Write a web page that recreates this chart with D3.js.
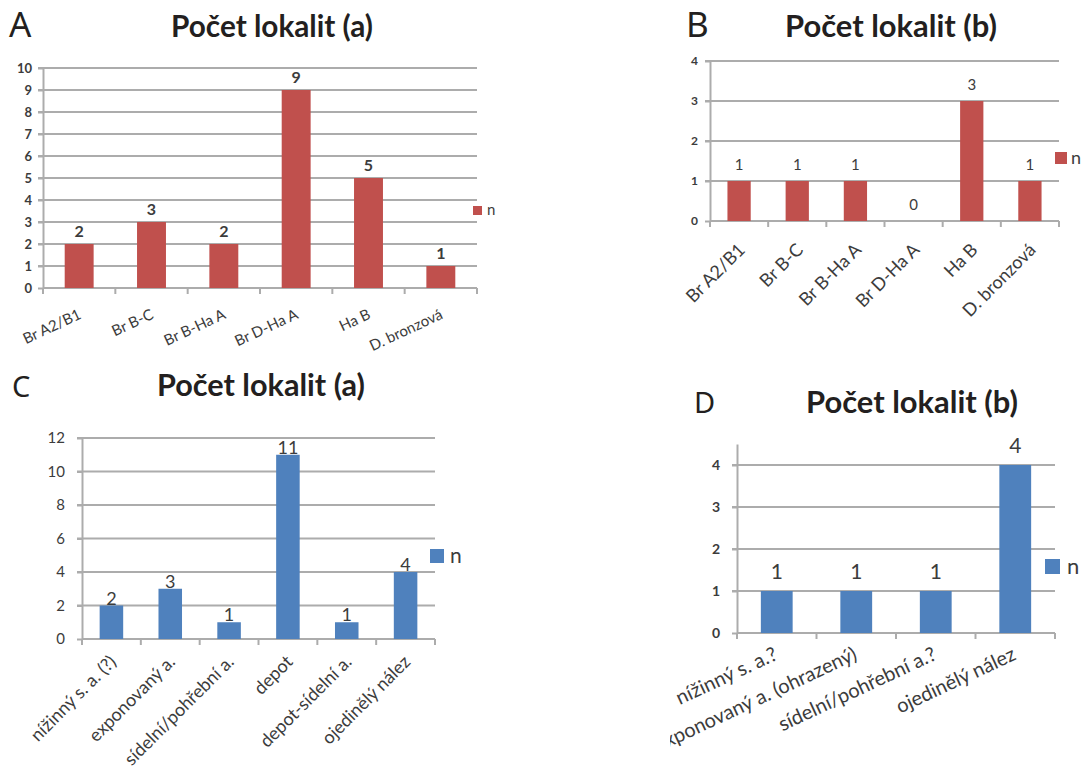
<!DOCTYPE html>
<html><head><meta charset="utf-8">
<script src="https://cdn.jsdelivr.net/npm/d3@7"></script>
<style>body{margin:0;background:#fff} text{font-family:Lato,'Open Sans',sans-serif}</style>
</head><body><svg id="c" width="1085" height="782"></svg>
<script>
// ---- data ----
const catsAB = ["Br A2/B1","Br B-C","Br B-Ha A","Br D-Ha A","Ha B","D. bronzová"];
const valuesA = [2,3,2,9,5,1];
const valuesB = [1,1,1,0,3,1];
const catsC = ["nížinný s. a. (?)","exponovaný a.","sídelní/pohřební a.","depot","depot-sídelní a.","ojedinělý nález"];
const valuesC = [2,3,1,11,1,4];
const catsD = ["nížinný s. a.?","exponovaný a. (ohrazený)","sídelní/pohřební a.?","ojedinělý nález"];
const valuesD = [1,1,1,4];
const ticksA = [0,1,2,3,4,5,6,7,8,9,10];
const ticksB = [0,1,2,3,4];
const ticksC = [0,2,4,6,8,10,12];
const ticksD = [0,1,2,3,4];
const titleA = "Počet lokalit (a)";
const titleB = "Počet lokalit (b)";
const seriesName = "n";
const letters = ["A","B","C","D"];

const RED = "#c0504d", BLUE = "#4f81bd", GRID = "#acacac", TXT = "#3c3c3c";
const svg = d3.select("#c");

function panel(cfg){
  const g = svg.append("g");
  if (cfg.clipX != null){
    const id = "clip" + cfg.letter;
    svg.append("defs").append("clipPath").attr("id", id)
      .append("rect").attr("x", cfg.clipX).attr("y", cfg.clipY).attr("width", 1085).attr("height", 782);
    g.attr("clip-path", `url(#${id})`);
  }
  // panel letter
  g.append("text").attr("x", cfg.letterX).attr("y", cfg.letterBase)
    .style("font-family","'Noto Sans','Open Sans',sans-serif")
    .attr("font-size", cfg.letterSize).attr("fill", "#231f20").text(cfg.letter);
  // title fitted to width
  const t = g.append("text").attr("x", (cfg.t1+cfg.t2)/2).attr("y", cfg.titleBase)
    .attr("text-anchor","middle").attr("font-weight","bold").attr("font-size", 24)
    .attr("fill","#231f20").text(cfg.title);
  const w = t.node().getComputedTextLength();
  t.attr("font-size", 24*(cfg.t2-cfg.t1)/w);

  const x = d3.scaleBand().domain(cfg.cats).range([cfg.x0, cfg.x1]).paddingInner(0.6).paddingOuter(0.3);
  const y = d3.scaleLinear().domain([0, cfg.max]).range([cfg.y0, cfg.yTop]);
  const half = x.step()*x.paddingInner()/2;

  // gridlines
  g.selectAll(".grid").data(cfg.ticks.filter(v=>v>0)).join("line")
    .attr("x1", cfg.x0-5).attr("x2", cfg.x1).attr("y1", d=>y(d)).attr("y2", d=>y(d))
    .attr("stroke", GRID).attr("stroke-width", 2);
  // y axis
  const ya = g.append("g").attr("transform", `translate(${cfg.x0},0)`)
    .call(d3.axisLeft(y).tickValues(cfg.ticks).tickFormat(d3.format("d")).tickSize(5).tickPadding(cfg.tickPad).tickSizeOuter(0));
  ya.select(".domain").attr("stroke", GRID).attr("stroke-width", 2);
  ya.selectAll(".tick line").attr("stroke", GRID).attr("stroke-width", 2);
  ya.selectAll(".tick text").attr("font-size", cfg.tickFont).attr("fill", TXT)
    .attr("font-weight", cfg.tickBold ? "bold" : "normal")
    .style("font-family","Lato,'Open Sans',sans-serif");
  // x axis baseline + boundary ticks
  g.append("line").attr("x1", cfg.x0).attr("x2", cfg.x1).attr("y1", y(0)).attr("y2", y(0))
    .attr("stroke", GRID).attr("stroke-width", 2);
  const bounds = cfg.cats.map(c => x(c) - half).concat([x(cfg.cats[cfg.cats.length-1]) + x.bandwidth() + half]);
  g.selectAll(".xt").data(bounds).join("line")
    .attr("x1", d=>d).attr("x2", d=>d).attr("y1", y(0)).attr("y2", y(0)+6)
    .attr("stroke", GRID).attr("stroke-width", 2);
  // category labels
  g.selectAll(".cl").data(cfg.cats).join("text")
    .attr("transform", d => `translate(${x(d)+x.bandwidth()/2+cfg.labDx},${y(0)+cfg.labDy}) rotate(${cfg.angle})`)
    .attr("text-anchor","end").attr("font-size", cfg.catFont).attr("fill", TXT).text(d=>d);
  // bars
  const data = cfg.cats.map((c,i)=>({c, v: cfg.values[i]}));
  g.selectAll(".bar").data(data).join("rect")
    .attr("x", d=>x(d.c)).attr("width", x.bandwidth())
    .attr("y", d=>y(d.v)).attr("height", d=>y(0)-y(d.v)).attr("fill", cfg.color);
  // value labels
  g.selectAll(".vl").data(data).join("text")
    .attr("x", d=>x(d.c)+x.bandwidth()/2).attr("y", d=>y(d.v)-cfg.valOff)
    .attr("text-anchor","middle").attr("font-size", cfg.valFont).attr("fill", TXT)
    .attr("font-weight", cfg.valBold ? "bold" : "normal").text(d=>d.v);
  // legend
  g.append("rect").attr("x", cfg.legX).attr("y", cfg.legY).attr("width", cfg.legS).attr("height", cfg.legS).attr("fill", cfg.color);
  g.append("text").attr("x", cfg.legX + cfg.legS + cfg.legGap).attr("y", cfg.legY + cfg.legS)
    .attr("font-size", cfg.legFont).attr("fill", TXT).text(seriesName);
}

panel({letter:letters[0], letterX:9, letterBase:37, letterSize:35, title:titleA, t1:171, t2:373, titleBase:37,
  cats:catsAB, values:valuesA, ticks:ticksA, max:10, x0:43, x1:477, yTop:68, y0:288, color:RED,
  tickFont:13, tickPad:6, tickBold:true, catFont:15, angle:-25, labDx:3, labDy:30, valFont:16, valOff:7, valBold:true,
  legX:473, legY:206, legS:9, legGap:5, legFont:15});
panel({letter:letters[1], letterX:686, letterBase:37, letterSize:35, title:titleB, t1:785, t2:997, titleBase:37,
  cats:catsAB, values:valuesB, ticks:ticksB, max:4, x0:710, x1:1059, yTop:61, y0:221, color:RED,
  tickFont:12, tickPad:7, tickBold:true, catFont:18, angle:-45, labDx:7, labDy:30, valFont:15, valOff:11, valBold:false,
  legX:1055, legY:152, legS:12, legGap:4, legFont:18});
panel({letter:letters[2], letterX:12, letterBase:397, letterSize:29, title:titleA, t1:157, t2:365, titleBase:396,
  cats:catsC, values:valuesC, ticks:ticksC, max:12, x0:82, x1:435, yTop:438, y0:639, color:BLUE,
  tickFont:15, tickPad:12, tickBold:false, catFont:18, angle:-45, labDx:6, labDy:24, valFont:18, valOff:1, valBold:false,
  legX:430, legY:549, legS:14, legGap:6, legFont:21});
panel({letter:letters[3], letterX:694, letterBase:413, letterSize:29, title:titleB, t1:806, t2:1018, titleBase:413,
  cats:catsD, values:valuesD, ticks:ticksD, max:4.5, x0:737, x1:1055, yTop:444, y0:633, color:BLUE,
  tickFont:14, tickPad:12, tickBold:true, catFont:20, angle:-25, labDx:2, labDy:26, valFont:21, valOff:12, valBold:false,
  legX:1045, legY:559, legS:15, legGap:7, legFont:22, clipX:670, clipY:360});
</script></body></html>
